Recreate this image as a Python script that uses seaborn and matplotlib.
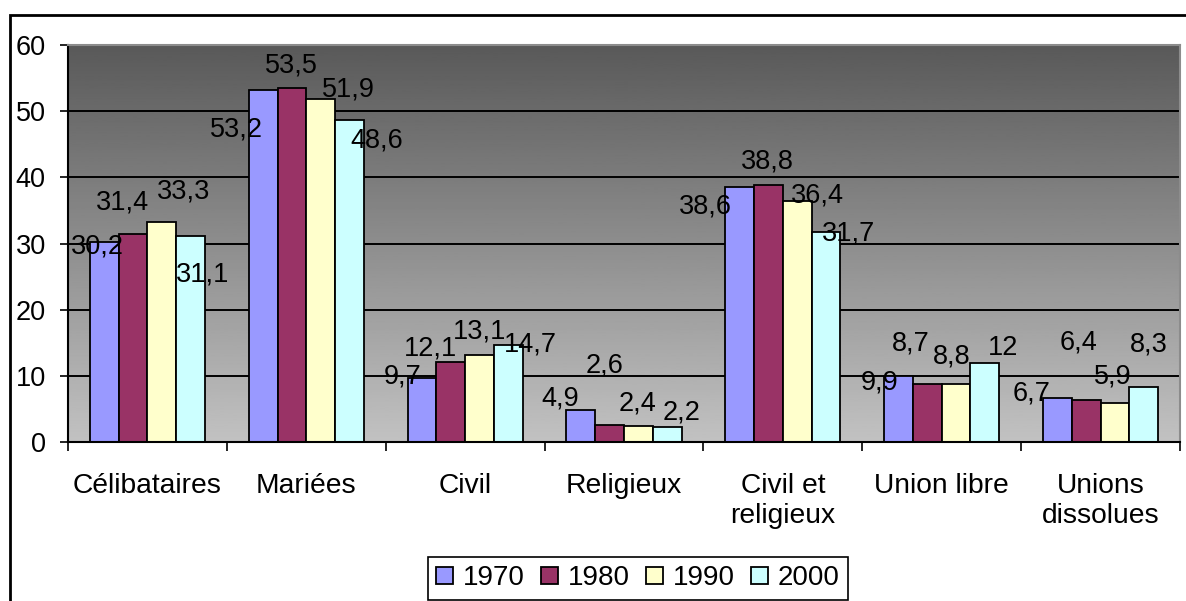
import pandas as pd
import seaborn as sns
import matplotlib.pyplot as plt
import numpy as np
from matplotlib.patches import Rectangle

# Data
categories = ['Célibataires', 'Mariées', 'Civil', 'Religieux',
              'Civil et\nreligieux', 'Union libre', 'Unions\ndissolues']
years = ['1970', '1980', '1990', '2000']
v1970 = [30.2, 53.2, 9.7, 4.9, 38.6, 9.9, 6.7]
v1980 = [31.4, 53.5, 12.1, 2.6, 38.8, 8.7, 6.4]
v1990 = [33.3, 51.9, 13.1, 2.4, 36.4, 8.8, 5.9]
v2000 = [31.1, 48.6, 14.7, 2.2, 31.7, 12, 8.3]

# Label offsets in pixels from the bar top (x right, y down) - Excel placement
label_offsets = {
    '1970': [(-7, 4), (-27, 40), (-19, -1), (-21, -11), (-34, 20), (-19, 6), (-26, -4)],
    '1980': [(-11, -32), (-1, -23), (-20, -13), (-5, -59), (-1, -24), (-17, -41), (-8, -57)],
    '1990': [(22, -30), (28, -9), (0, -24), (-1, -23), (20, -6), (-4, -27), (-2, -26)],
    '2000': [(12, 38), (27, 20), (22, 0), (14, -15), (23, 1), (18, -15), (5, -43)],
}

colors = {'1970': '#9999FF', '1980': '#993366', '1990': '#FFFFCC', '2000': '#CCFFFF'}

# Build long-form table
values = {'1970': v1970, '1980': v1980, '1990': v1990, '2000': v2000}
df = pd.DataFrame([
    {'categorie': c, 'annee': y, 'valeur': values[y][i]}
    for y in years for i, c in enumerate(categories)
])

plt.rcParams['font.family'] = ['Liberation Sans', 'DejaVu Sans']

W, H = 1186, 601
fig = plt.figure(figsize=(W / 100, H / 100), dpi=100)
ax = fig.add_axes([68 / W, 1 - 442 / H, (1180 - 68) / W, (442 - 45) / H])

# gradient background of the plot area: dark on top, light at the bottom
grad = np.linspace(0.76, 0.35, 256).reshape(-1, 1)
ax.imshow(grad, extent=(-0.5, 6.5, 0, 60), aspect='auto', cmap='gray',
          vmin=0, vmax=1, origin='lower', zorder=0)

sns.barplot(data=df, x='categorie', y='valeur', hue='annee', order=categories,
            hue_order=years, palette=colors, width=0.724, edgecolor='black',
            linewidth=1.3, saturation=1, ax=ax, zorder=2)

ax.set_xlim(-0.5, 6.5)
ax.set_ylim(0, 60)
ax.set_yticks(range(0, 61, 10))
ax.set_xlabel('')
ax.set_ylabel('')

# gridlines
ax.set_axisbelow(True)
ax.yaxis.grid(True, color='black', linewidth=1.4)
ax.xaxis.grid(False)

# spines
for s in ['left', 'bottom']:
    ax.spines[s].set_color('black')
    ax.spines[s].set_linewidth(1.5)
for s in ['top', 'right']:
    ax.spines[s].set_color('#8c8c8c')
    ax.spines[s].set_linewidth(1.5)

# ticks
ax.tick_params(axis='y', length=6, width=1.2, pad=10, labelsize=19.5)
ax.set_xticks(range(len(categories)))
ax.set_xticklabels(categories, fontsize=20.3, linespacing=1.2)
ax.set_xticks(np.arange(-0.5, 7, 1), minor=True)
ax.tick_params(axis='x', which='major', length=0, pad=22)
ax.tick_params(axis='x', which='minor', length=6.5, width=1.2)

# data labels
for year, cont in zip(years, ax.containers):
    for i, bar in enumerate(cont):
        v = values[year][i]
        dx, dy = label_offsets[year][i]
        ax.annotate(f'{v:g}'.replace('.', ','),
                    (bar.get_x() + bar.get_width() / 2, bar.get_height()),
                    xytext=(dx, -dy), textcoords='offset pixels',
                    ha='center', va='center', fontsize=19.5, zorder=5)

# legend
handles, labels = ax.get_legend_handles_labels()
ax.get_legend().remove()
leg = fig.legend(handles, labels, loc='upper left',
                 bbox_to_anchor=(428 / W, 1 - 557 / H), ncol=4, fontsize=20,
                 frameon=True, fancybox=False, framealpha=1, edgecolor='black',
                 handlelength=0.6, handleheight=0.6, handletextpad=0.35,
                 columnspacing=0.6, borderpad=0.3, borderaxespad=0)
leg.get_frame().set_linewidth(1.2)

# outer chart frame (cut at right and bottom)
fig.patches.append(Rectangle((10 / W, -0.1), 1.2, 1.1 - 15 / H,
                             transform=fig.transFigure, fill=False,
                             edgecolor='black', linewidth=2, zorder=0))

fig.savefig('out.png', dpi=100)
